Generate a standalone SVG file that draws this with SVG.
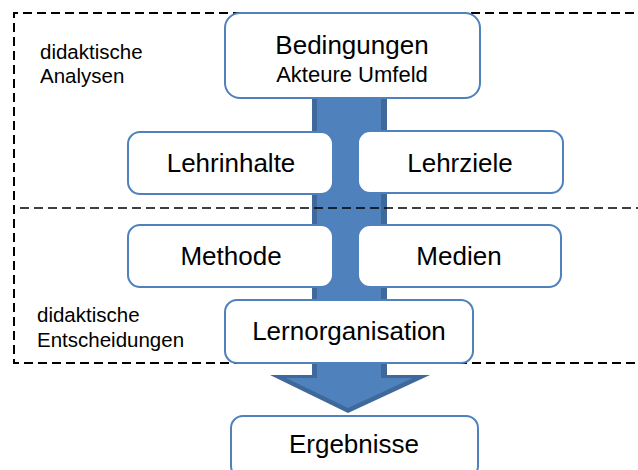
<svg xmlns="http://www.w3.org/2000/svg" width="638" height="470" viewBox="0 0 638 470">
  <style>
    .box { fill: #ffffff; stroke: #4f81bd; stroke-width: 2; }
    .lbl { font-family: "Liberation Sans", Arial, sans-serif; fill: #000000; text-anchor: middle; }
    .big { font-size: 26px; }
    .sub { font-size: 22px; }
    .note { font-family: "Liberation Sans", Arial, sans-serif; font-size: 20.5px; fill: #000000; }
    .frame { fill: none; stroke: #000000; stroke-width: 2; stroke-dasharray: 9 5; }
    .split { fill: none; stroke: #000000; stroke-width: 1.5; stroke-dasharray: 9 5; }
  </style>

  <!-- flow arrow running through the stages -->
  <g id="connectors">
    <polygon points="312,90 312,375 270,375 348,413 430,375 387,375 387,90" fill="#3f689b"/>
    <polygon points="317,90 317,378 286,378 348,408 413,378 381,378 381,90" fill="#4f81bd"/>
  </g>

  <!-- dashed frames around analysis and decision areas -->
  <g id="frames">
    <path class="frame" d="M648,13 H14 V363 H648"/>
    <path class="split" d="M20,208 H648"/>
  </g>

  <g id="bedingungen">
    <rect class="box" x="225" y="13" width="255" height="85" rx="15"/>
    <text class="lbl big" x="352" y="54">Bedingungen</text>
    <text class="lbl sub" x="352" y="82">Akteure Umfeld</text>
  </g>

  <g id="lehrinhalte">
    <rect class="box" x="128" y="132" width="205" height="62" rx="12"/>
    <text class="lbl big" x="231" y="172">Lehrinhalte</text>
  </g>

  <g id="lehrziele">
    <rect class="box" x="358" y="131" width="205" height="62" rx="12"/>
    <text class="lbl big" x="460" y="172">Lehrziele</text>
  </g>

  <g id="methode">
    <rect class="box" x="128" y="225" width="205" height="62" rx="12"/>
    <text class="lbl big" x="231" y="265">Methode</text>
  </g>

  <g id="medien">
    <rect class="box" x="358" y="225" width="203" height="62" rx="12"/>
    <text class="lbl big" x="459" y="265">Medien</text>
  </g>

  <g id="lernorganisation">
    <rect class="box" x="225" y="300" width="248" height="63" rx="12"/>
    <text class="lbl big" x="349" y="340">Lernorganisation</text>
  </g>

  <g id="ergebnisse">
    <rect class="box" x="231" y="416" width="247" height="62" rx="12"/>
    <text class="lbl big" x="354" y="453">Ergebnisse</text>
  </g>

  <g id="labels">
    <text class="note" x="40" y="59">didaktische</text>
    <text class="note" x="40" y="83">Analysen</text>
    <text class="note" x="37" y="322">didaktische</text>
    <text class="note" x="37" y="347">Entscheidungen</text>
  </g>
</svg>
